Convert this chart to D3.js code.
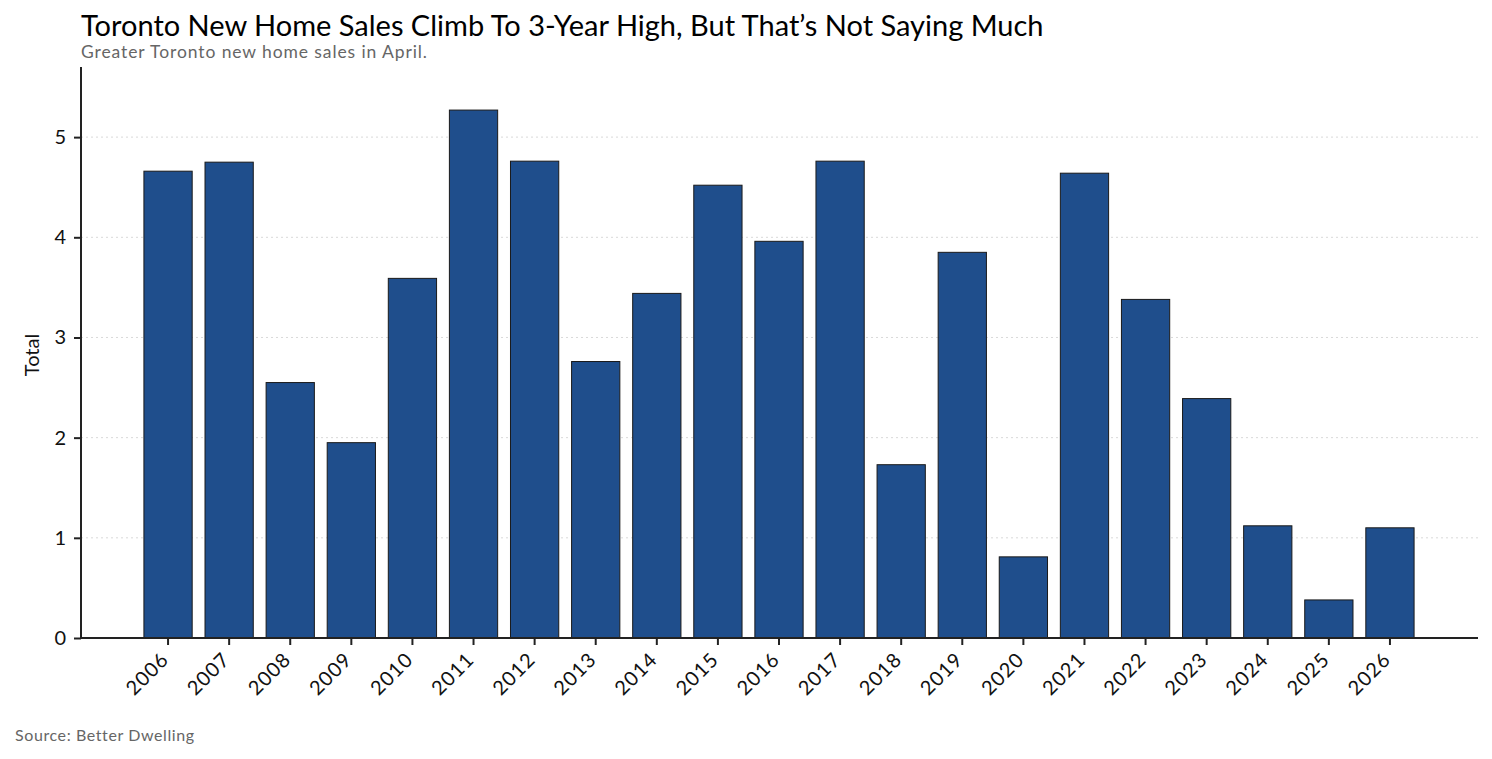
<!DOCTYPE html>
<meta charset="utf-8">
<body style="margin:0">
  <svg id="chart"></svg>
</body>

<style>
body { background: #fff; }
text { font-family: Lato, "Noto Sans", sans-serif; }
.grid line { stroke: #d9d9d9; stroke-dasharray: 2,3; }
.axis path, .axis line { stroke: #222; stroke-width: 2; }
.axis text { font-size: 20px; fill: #111; }
</style>

<script src="https://d3js.org/d3.v7.min.js"></script>
<script>

// data
var years = ["2006","2007","2008","2009","2010","2011","2012","2013","2014","2015","2016",
             "2017","2018","2019","2020","2021","2022","2023","2024","2025","2026"];
var sales = [4.66, 4.75, 2.55, 1.95, 3.59, 5.27, 4.76, 2.76, 3.44, 4.52, 3.96,
             4.76, 1.73, 3.85, 0.81, 4.64, 3.38, 2.39, 1.12, 0.38, 1.10];
var yTicks = [0, 1, 2, 3, 4, 5];

var width = 1492, height = 759;
var svg = d3.select("#chart").attr("width", width).attr("height", height);

var x = d3.scaleBand().domain(years).range([137.5, 1420.5]).paddingInner(0.21).paddingOuter(0.105);
var y = d3.scaleLinear().domain([0, 5.7]).range([638, 67]);

// grid
svg.append("g")
    .attr("class", "grid")
  .selectAll("line")
  .data(yTicks.filter(d => d > 0))
  .enter().append("line")
    .attr("x1", 81).attr("x2", 1478)
    .attr("y1", d => y(d)).attr("y2", d => y(d));

// bars
svg.append("g")
  .selectAll("rect")
  .data(years)
  .enter().append("rect")
    .attr("x", d => x(d))
    .attr("width", x.bandwidth())
    .attr("y", (d, i) => y(sales[i]))
    .attr("height", (d, i) => y(0) - y(sales[i]))
    .attr("fill", "#1f4e8c")
    .attr("stroke", "#1a1a1a")
    .attr("stroke-width", 1);

// y axis
var yAxis = svg.append("g")
    .attr("class", "axis")
    .attr("transform", "translate(81,0)")
    .call(d3.axisLeft(y).tickValues(yTicks).tickFormat(d3.format("d"))
      .tickSize(7).tickSizeOuter(0).tickPadding(8));
yAxis.select(".domain").attr("d", "M0," + y(5.7) + "V" + y(0));

// x axis
var xAxis = svg.append("g")
    .attr("class", "axis")
    .attr("transform", "translate(0,638)")
    .call(d3.axisBottom(x).tickSize(7).tickSizeOuter(0));
xAxis.select(".domain").attr("d", "M81,0H1478");
xAxis.selectAll(".tick text")
    .attr("x", 0).attr("y", 0)
    .attr("dy", "0.35em")
    .attr("letter-spacing", "1px")
    .attr("text-anchor", "end")
    .attr("transform", "translate(-3,18) rotate(-45)");

// labels
svg.append("text")
    .attr("transform", "translate(39,355) rotate(-90)")
    .attr("text-anchor", "middle")
    .attr("font-size", 20)
    .attr("fill", "#111")
    .text("Total");

svg.append("text")
    .attr("x", 81).attr("y", 36)
    .attr("font-size", 29)
    .attr("fill", "#000")
    .text("Toronto New Home Sales Climb To 3-Year High, But That\u2019s Not Saying Much");

svg.append("text")
    .attr("x", 81).attr("y", 58)
    .attr("font-size", 17.5)
    .attr("letter-spacing", "0.9px")
    .attr("fill", "#666")
    .text("Greater Toronto new home sales in April.");

svg.append("text")
    .attr("x", 15).attr("y", 741)
    .attr("font-size", 16)
    .attr("letter-spacing", "0.6px")
    .attr("fill", "#666")
    .text("Source: Better Dwelling");

</script>
